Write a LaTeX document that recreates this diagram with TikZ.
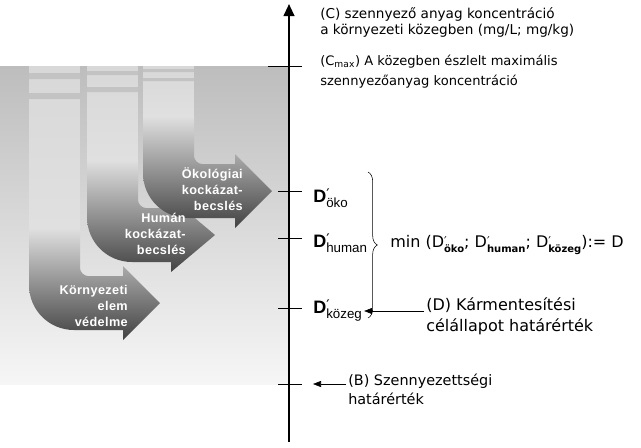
\documentclass[tikz,border=0pt]{standalone}
\usepackage{fontspec}
\setmainfont{Liberation Sans}
\newfontfamily\widefont{DejaVu Sans}
\newfontfamily\ribbonfont[LetterSpace=3]{Liberation Sans}
\usetikzlibrary{arrows.meta,decorations.pathreplacing}
\definecolor{bgtop}{HTML}{BDBDBD}
\definecolor{bgbot}{HTML}{F6F6F6}
\definecolor{bandlt}{HTML}{D8D8D8}
\definecolor{bandmd}{HTML}{E0E0E0}
\definecolor{stripe}{HTML}{C3C3C3}
\definecolor{ribmid}{HTML}{A0A0A0}
\definecolor{ribdark}{HTML}{424242}
% D' with a subscript, prime above the subscript
\newcommand{\Dlbl}[1]{\textbf{D}\rlap{\raisebox{0.12em}{\widefont\fontsize{11}{11}\selectfont ′}}\raisebox{-0.3em}{\fontsize{10}{10}\selectfont #1}}
\newcommand{\Dmin}[1]{D\rlap{\raisebox{0.08em}{\widefont\fontsize{9}{9}\selectfont ′}}\raisebox{-0.35em}{\fontsize{7.5}{7.5}\selectfont\bfseries #1}}

\begin{document}
\begin{tikzpicture}[x=0.75pt,y=-0.75pt,>={Triangle[length=6pt,width=4.5pt]},
  txt/.style={anchor=west,align=left,inner sep=1.5pt},
  dlab/.style={anchor=base west,inner sep=1.5pt,font=\fontsize{13.5}{16}\selectfont},
  tick/.style={line width=0.75pt},
  rlbl/.style={anchor=east,align=right,text=white,inner sep=0pt,font=\ribbonfont\bfseries\fontsize{9.5}{12}\selectfont}]
  \useasboundingbox (0,0) rectangle (641,447);
  % grey field behind the ribbons
  \shade[top color=bgtop,bottom color=bgbot] (0,66) rectangle (289,384);

  % ---------------- the three ribbons ----------------
  \foreach \xl/\cy/\hb/\tx/\ya/\yb/\yc/\yd in {29/303/123/160/73/79/93/99, 87/235/171/215/71/75/87/92, 143/191/235/272/69/72/78/81}{
    \begin{scope}
      \clip (\xl,66) -- (\xl,{\cy-18}) .. controls (\xl,{\cy+7}) and ({\xl+20},{\cy+27}) .. ({\xl+45},{\cy+27})
        -- (\hb,{\cy+27}) -- (\hb,{\cy+37}) -- (\tx,\cy) -- (\hb,{\cy-37}) -- (\hb,{\cy-27})
        -- ({\xl+59},{\cy-27}) .. controls ({\xl+55},{\cy-27}) and ({\xl+51},{\cy-31}) .. ({\xl+51},{\cy-35})
        -- ({\xl+51},66) -- cycle;
      \shade[top color=bandlt,bottom color=bandmd] (\xl,66) rectangle ({\xl+51},{\cy-74});
      \shade[top color=bandmd,middle color=ribmid,bottom color=ribdark] (\xl,{\cy-75}) rectangle (\tx,{\cy+37});
      \fill[stripe] (\xl,\ya) rectangle ({\xl+51},\yb) (\xl,\yc) rectangle ({\xl+51},\yd);
    \end{scope}
  }
  \node[rlbl] (lblKorny) at (128,306) {Környezeti\\elem\\védelme};
  \node[rlbl] (lblHuman) at (186,234) {Humán\\kockázat-\\becslés};
  \node[rlbl] (lblOko) at (243,189) {Ökológiai\\kockázat-\\becslés};

  % ---------------- axis and ticks ----------------
  \coordinate (axB) at (289,442);
  \coordinate (axT) at (289,4);
  \draw[line width=1.5pt,-{Triangle[length=9pt,width=8pt]}] (axB) -- (axT);
  \draw[tick] (268,66) -- (302,66);
  \foreach \y in {191,238,308,384} \draw[tick] (278,\y) -- (302,\y);

  % ---------------- texts on the right ----------------
  \node[txt,font=\widefont\fontsize{10.2}{12}\selectfont] (cTxt) at (318,22) {(C) szennyező anyag koncentráció\\a környezeti közegben (mg/L; mg/kg)};
  \node[txt,font=\widefont\fontsize{9.8}{15}\selectfont] (cmaxTxt) at (318,72) {(C\textsubscript{max}) A közegben észlelt maximális\\szennyezőanyag koncentráció};
  \node[dlab] (dOko) at (311,202) {\Dlbl{öko}};
  \node[dlab] (dHuman) at (311,247) {\Dlbl{human}};
  \node[dlab] (dKozeg) at (311,313) {\Dlbl{közeg}};
  \draw[decorate,decoration={brace,amplitude=7pt}] (368,172) -- (368,318);
  \node[txt,font=\widefont\fontsize{12}{14}\selectfont] (minTxt) at (388,245) {min (\Dmin{öko}; \Dmin{human}; \Dmin{közeg}):= D};
  \node[txt,font=\widefont\fontsize{12}{15.5}\selectfont] (dTxt) at (424,316) {(D) Kármentesítési\\célállapot határérték};
  \draw[->] ([yshift=3.75pt]dTxt.west) -- ([yshift=3.75pt]dTxt.west -| dKozeg.east);
  \node[txt,font=\widefont\fontsize{10.8}{14}\selectfont] (bTxt) at (346,389) {(B) Szennyezettségi\\határérték};
  \coordinate (tickB) at (313,384);
  \draw[->] (tickB -| bTxt.west) -- (tickB);
\end{tikzpicture}
\end{document}
